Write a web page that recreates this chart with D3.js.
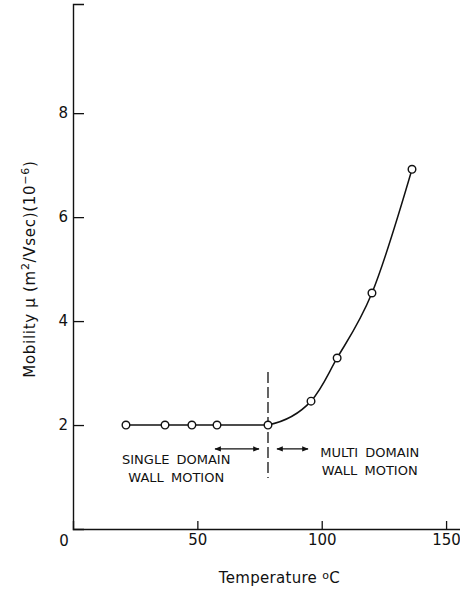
<!DOCTYPE html>
<html>
<head>
<meta charset="utf-8">
<script src="https://cdn.jsdelivr.net/npm/d3@7"></script>
<style>
  html, body { margin: 0; padding: 0; background: #fff; }
  svg { display: block; }
  text { font-family: "DejaVu Sans", sans-serif; fill: #111; }
</style>
</head>
<body>
<svg id="chart" width="460" height="593"></svg>
<script>
// ---- data ----
const temperature = [21.3, 37.0, 47.8, 57.9, 78.4, 95.7, 106.2, 120.2, 136.3];
const mobility    = [2.0, 2.0, 2.0, 2.0, 2.0, 2.46, 3.29, 4.54, 6.92];
const xTicks = [50, 100, 150];
const yTicks = [2, 4, 6, 8];
const transitionTemp = 78.4;
const dividerRange = [0.98, 3.02];
const leftArrow = [57.1, 74.8];
const rightArrow = [82.0, 94.5];
const arrowLevel = 1.54;
const annotations = [
  { lines: ["SINGLE DOMAIN", "WALL MOTION"], x: 41.5, y: [1.33, 1.0] },
  { lines: ["MULTI DOMAIN", "WALL MOTION"], x: 119.3, y: [1.48, 1.12] }
];

const svg = d3.select("#chart");
const x = d3.scaleLinear().domain([0, 156]).range([73, 461]);
const y = d3.scaleLinear().domain([0, 10.1]).range([529, 4]);

const stroke = "#111";

// axes
const yAxis = d3.axisLeft(y).tickValues(yTicks).tickSize(-11).tickPadding(5).tickFormat(d3.format("d"));
const gy = svg.append("g").attr("transform", `translate(${x(0)},0)`).call(yAxis);
const xAxis = d3.axisBottom(x).tickValues(xTicks).tickSize(-8).tickPadding(5).tickFormat(d3.format("d"));
const gx = svg.append("g").attr("transform", `translate(0,${y(0)})`).call(xAxis);
[gx, gy].forEach(g => {
  g.selectAll("path.domain").attr("stroke", stroke).attr("stroke-width", 1.4);
  g.selectAll(".tick line").attr("stroke", stroke).attr("stroke-width", 1.3);
  g.selectAll(".tick text").style("font-family", '"DejaVu Sans", sans-serif').style("font-size", "15px").attr("fill", "#111");
});
// origin label
svg.append("text").attr("x", x(0) - 9).attr("y", y(0) + 6).attr("dy", "0.71em")
  .attr("text-anchor", "middle").style("font-size", "15px").text("0");

// axis titles
svg.append("text").attr("x", x(83)).attr("y", 583).attr("text-anchor", "middle")
  .style("font-size", "15px").style("letter-spacing", "0.3px")
  .html('Temperature <tspan baseline-shift="40%" font-size="11px">o</tspan>C');

const yl = svg.append("text").attr("transform", `translate(35, ${y(5.0)}) rotate(-90)`)
  .attr("text-anchor", "middle").style("font-size", "15px").style("letter-spacing", "0.7px");
yl.append("tspan").text("Mobility  μ  (m");
yl.append("tspan").attr("baseline-shift", "super").attr("font-size", "11px").text("2");
yl.append("tspan").text("/Vsec)(10");
yl.append("tspan").attr("baseline-shift", "super").attr("font-size", "11px").text("−6");
yl.append("tspan").text(")");

// divider
svg.append("line")
  .attr("x1", x(transitionTemp)).attr("x2", x(transitionTemp))
  .attr("y1", y(dividerRange[1])).attr("y2", y(dividerRange[0]))
  .attr("stroke", stroke).attr("stroke-width", 1.3).attr("stroke-dasharray", "11,4");

// curve: flat part (linear) + rising part (natural spline, clipped after the transition)
const pts = temperature.map((t, i) => [t, mobility[i]]);
const flat = pts.filter(d => d[0] <= transitionTemp);
const tIdx = pts.findIndex(d => d[0] === transitionTemp);
const rising = pts.slice(tIdx - 1);

svg.append("clipPath").attr("id", "riseClip").append("rect")
  .attr("x", x(transitionTemp)).attr("y", 0).attr("width", 460).attr("height", 593);

const lineGen = d3.line().x(d => x(d[0])).y(d => y(d[1]));
svg.append("path").datum(flat)
  .attr("d", lineGen.curve(d3.curveLinear))
  .attr("fill", "none").attr("stroke", stroke).attr("stroke-width", 1.5);
svg.append("path").datum(rising)
  .attr("d", lineGen.curve(d3.curveNatural))
  .attr("clip-path", "url(#riseClip)")
  .attr("fill", "none").attr("stroke", stroke).attr("stroke-width", 1.5);

svg.selectAll("circle.pt").data(pts).join("circle").attr("class", "pt")
  .attr("cx", d => x(d[0])).attr("cy", d => y(d[1])).attr("r", 3.8)
  .attr("fill", "#fff").attr("stroke", stroke).attr("stroke-width", 1.4);

// arrows
const defs = svg.append("defs");
["s", "e"].forEach(id => {
  defs.append("marker").attr("id", "arr" + id).attr("viewBox", "0 0 10 10")
    .attr("refX", 9).attr("refY", 5).attr("markerWidth", 6).attr("markerHeight", 5)
    .attr("orient", id === "s" ? "auto-start-reverse" : "auto")
    .append("path").attr("d", "M0,1 L10,5 L0,9 Z").attr("fill", stroke);
});
[leftArrow, rightArrow].forEach(a => {
  svg.append("line").attr("x1", x(a[0])).attr("x2", x(a[1]))
    .attr("y1", y(arrowLevel)).attr("y2", y(arrowLevel))
    .attr("stroke", stroke).attr("stroke-width", 1.3)
    .attr("marker-start", "url(#arrs)").attr("marker-end", "url(#arre)");
});

// annotation text
annotations.forEach(a => {
  a.lines.forEach((l, i) => {
    svg.append("text").attr("x", x(a.x)).attr("y", y(a.y[i])).attr("text-anchor", "middle")
      .style("font-size", "13px").attr("dy", "0.35em").style("word-spacing", "3px").text(l);
  });
});
</script>
</body>
</html>
